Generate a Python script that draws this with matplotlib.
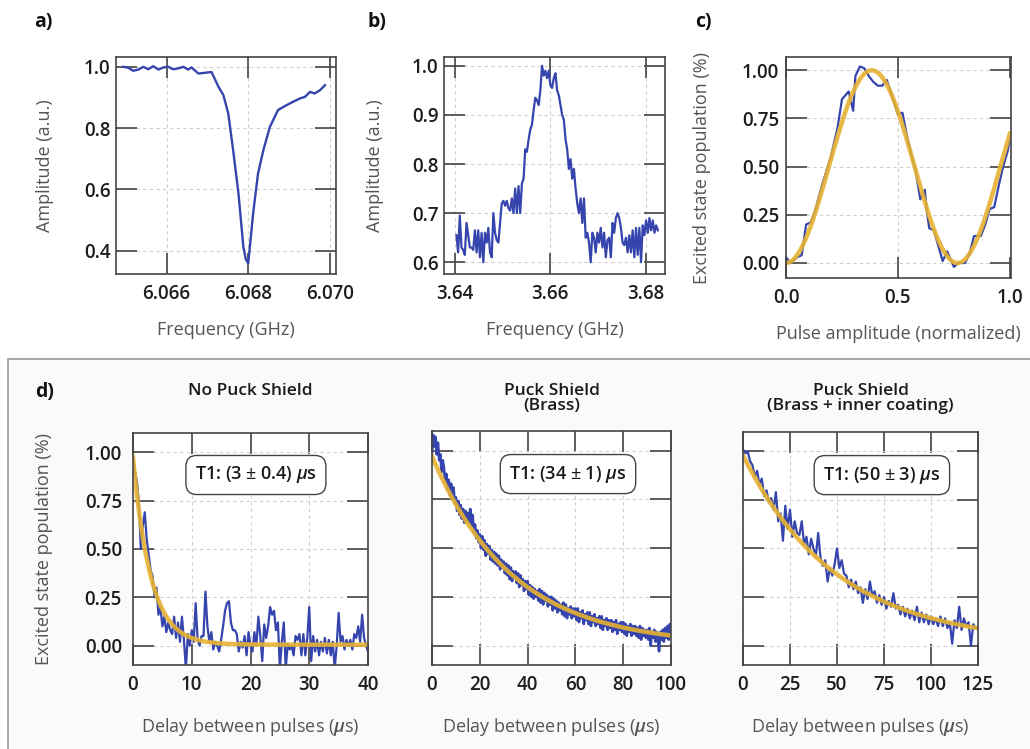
import numpy as np
import matplotlib
matplotlib.use("Agg")
import matplotlib.pyplot as plt
from matplotlib.patches import Rectangle

plt.rcParams['font.family'] = ['Open Sans', 'DejaVu Sans']
plt.rcParams['mathtext.fontset'] = 'custom'
plt.rcParams['mathtext.it'] = 'Open Sans:italic:semibold'
plt.rcParams['mathtext.rm'] = 'Open Sans'

# ---------------- data ----------------
# a) resonator spectroscopy
freq_a = [6.06494, 6.06506, 6.06518, 6.06531, 6.06543, 6.06555, 6.06567, 6.06580,
          6.06592, 6.06604, 6.06616, 6.06629, 6.06641, 6.06653, 6.06661, 6.06678,
          6.06710, 6.06727, 6.06739, 6.06751, 6.06763, 6.06776, 6.06788, 6.06794,
          6.06800, 6.06812, 6.06824, 6.06837, 6.06853, 6.06873, 6.06894, 6.06910,
          6.06927, 6.06939, 6.06951, 6.06963, 6.06976, 6.06988]
amp_a = [1.000, 0.997, 0.987, 0.991, 1.000, 0.992, 1.002, 0.991,
         0.998, 1.000, 0.992, 0.995, 1.000, 0.991, 0.998, 0.978,
         0.983, 0.935, 0.908, 0.848, 0.728, 0.587, 0.413, 0.372,
         0.359, 0.522, 0.652, 0.728, 0.804, 0.859, 0.875, 0.886,
         0.897, 0.902, 0.918, 0.913, 0.924, 0.940]

# b) qubit spectroscopy
freq_b_start, freq_b_stop = 3.6404, 3.6825
amp_b = [0.655, 0.62, 0.695, 0.63, 0.625, 0.615, 0.68, 0.655, 0.63, 0.63,
         0.625, 0.665, 0.62, 0.665, 0.61, 0.66, 0.60, 0.66, 0.64, 0.67,
         0.62, 0.61, 0.70, 0.66, 0.645, 0.64, 0.68, 0.72, 0.725, 0.715,
         0.725, 0.71, 0.705, 0.73, 0.70, 0.75, 0.70, 0.755, 0.70, 0.76,
         0.77, 0.83, 0.825, 0.85, 0.87, 0.88, 0.91, 0.935, 0.93, 0.92,
         0.95, 1.0, 0.98, 0.99, 0.975, 0.99, 0.96, 0.955, 0.975, 0.985,
         0.95, 0.94, 0.92, 0.90, 0.89, 0.85, 0.83, 0.79, 0.81, 0.77,
         0.79, 0.75, 0.72, 0.70, 0.73, 0.68, 0.73, 0.65, 0.66, 0.64,
         0.60, 0.66, 0.65, 0.62, 0.66, 0.64, 0.67, 0.63, 0.66, 0.61,
         0.645, 0.65, 0.61, 0.68, 0.66, 0.69, 0.70, 0.69, 0.67, 0.64,
         0.635, 0.65, 0.62, 0.655, 0.62, 0.665, 0.61, 0.67, 0.615, 0.67,
         0.60, 0.675, 0.655, 0.685, 0.66, 0.69, 0.665, 0.685, 0.66, 0.675,
         0.665]

# c) Rabi oscillation
pulse_c = [0.0, 0.02, 0.05, 0.07, 0.09, 0.11, 0.13, 0.16, 0.20, 0.23,
           0.25, 0.28, 0.30, 0.31, 0.33, 0.35, 0.37, 0.39, 0.41, 0.43,
           0.45, 0.47, 0.50, 0.52, 0.54, 0.56, 0.58, 0.60, 0.62, 0.63,
           0.64, 0.66, 0.68, 0.70, 0.72, 0.75, 0.77, 0.80, 0.82, 0.84,
           0.87, 0.89, 0.91, 0.93, 0.95, 0.97, 0.99, 1.0]
pop_c = [0.03, 0.0, 0.03, 0.04, 0.20, 0.21, 0.27, 0.40, 0.55, 0.70,
         0.85, 0.89, 0.79, 0.97, 1.02, 1.01, 0.97, 0.94, 0.92, 0.92,
         0.95, 0.88, 0.77, 0.78, 0.66, 0.56, 0.47, 0.33, 0.38, 0.26,
         0.18, 0.17, 0.09, 0.01, 0.06, -0.02, 0.0, 0.0, 0.05, 0.14,
         0.14, 0.20, 0.28, 0.29, 0.40, 0.50, 0.58, 0.65]
rabi_x_pi = 0.383

# d) T1 measurements
t1_titles = ["No Puck Shield", "Puck Shield\n(Brass)", "Puck Shield\n(Brass + inner coating)"]
t1_labels = [r"T1: (3 $\pm$ 0.4) $\mu$s", r"T1: (34 $\pm$ 1) $\mu$s", r"T1: (50 $\pm$ 3) $\mu$s"]
t1_tmax = [40, 100, 125]
t1_xticks = [[0, 10, 20, 30, 40], [0, 20, 40, 60, 80, 100], [0, 25, 50, 75, 100, 125]]
t1_fit_amp = [0.97, 0.97, 0.97]
t1_fit_tau = [3.0, 34.0, 50.0]
t1_fit_off = [0.005, 0.0, 0.01]

pop_d1 = [0.97, 0.90, 0.85, 0.74, 0.50, 0.62, 0.69, 0.55, 0.47, 0.39,
          0.36, 0.25, 0.30, 0.16, 0.20, 0.10, 0.15, 0.07, 0.12, 0.08,
          0.06, 0.15, 0.04, 0.12, 0.02, 0.15, 0.03, -0.12, 0.06, 0.00,
          0.08, 0.02, 0.22, 0.03, 0.00, 0.05, 0.05, 0.28, 0.10, 0.02,
          0.07, -0.02, 0.02, 0.00, -0.03, 0.03, 0.10, 0.18, 0.22, 0.23,
          0.12, 0.08, 0.08, 0.06, -0.03, 0.02, -0.01, 0.05, -0.05, 0.07,
          0.00, -0.03, 0.07, 0.00, 0.15, 0.05, -0.08, 0.11, 0.04, 0.10,
          0.20, 0.16, 0.18, 0.08, 0.12, -0.12, 0.02, 0.12, -0.12, 0.01,
          -0.02, 0.00, -0.05, 0.05, 0.03, 0.06, -0.05, 0.06, -0.05, 0.04,
          0.20, -0.08, 0.05, -0.03, 0.03, -0.05, 0.02, -0.03, 0.04, -0.04,
          0.03, -0.05, 0.02, -0.12, 0.00, 0.17, 0.02, 0.05, -0.02, 0.03,
          0.00, 0.03, -0.02, 0.06, 0.04, 0.10, 0.02, 0.16, 0.04, 0.00,
          -0.03]
pop_d2 = [0.99, 1.08, 1.02, 1.07, 0.98, 1.04, 0.95, 0.98, 0.89, 0.95,
          0.91, 0.84, 0.88, 0.80, 0.85, 0.77, 0.83, 0.75, 0.81, 0.73,
          0.76, 0.69, 0.74, 0.67, 0.72, 0.65, 0.70, 0.63, 0.69, 0.64,
          0.68, 0.63, 0.70, 0.61, 0.67, 0.58, 0.62, 0.55, 0.59, 0.53,
          0.57, 0.50, 0.56, 0.49, 0.54, 0.46, 0.52, 0.47, 0.51, 0.44,
          0.49, 0.43, 0.48, 0.42, 0.47, 0.41, 0.46, 0.39, 0.44, 0.40,
          0.43, 0.37, 0.42, 0.36, 0.41, 0.34, 0.40, 0.33, 0.38, 0.35,
          0.38, 0.32, 0.37, 0.30, 0.36, 0.31, 0.34, 0.28, 0.33, 0.29,
          0.33, 0.26, 0.31, 0.25, 0.30, 0.24, 0.29, 0.25, 0.28, 0.23,
          0.29, 0.22, 0.28, 0.21, 0.27, 0.23, 0.26, 0.20, 0.25, 0.21,
          0.25, 0.18, 0.24, 0.19, 0.23, 0.17, 0.22, 0.18, 0.21, 0.16,
          0.22, 0.15, 0.21, 0.14, 0.19, 0.16, 0.20, 0.14, 0.19, 0.15,
          0.19, 0.13, 0.19, 0.12, 0.17, 0.14, 0.18, 0.11, 0.16, 0.13,
          0.17, 0.11, 0.17, 0.10, 0.15, 0.12, 0.16, 0.10, 0.14, 0.11,
          0.15, 0.09, 0.15, 0.08, 0.13, 0.10, 0.14, 0.08, 0.13, 0.09,
          0.13, 0.07, 0.12, 0.08, 0.13, 0.06, 0.11, 0.08, 0.12, 0.07,
          0.12, 0.06, 0.11, 0.05, 0.10, 0.07, 0.11, 0.05, 0.10, 0.06,
          0.10, 0.05, 0.09, 0.04, 0.10, 0.03, 0.09, 0.05, 0.08, 0.04,
          0.08, 0.03, 0.09, 0.00, 0.07, 0.04, 0.08, 0.02, 0.07, 0.03,
          -0.03, 0.07, 0.03, 0.08, 0.02, 0.09, 0.04, 0.10, 0.03, 0.11,
          0.06]
pop_d3 = [1.01, 0.99, 1.00, 0.95, 0.93, 0.87, 0.90, 0.83, 0.86, 0.77,
          0.80, 0.74, 0.76, 0.70, 0.79, 0.64, 0.68, 0.54, 0.72, 0.60,
          0.70, 0.56, 0.64, 0.58, 0.57, 0.64, 0.52, 0.56, 0.47, 0.55,
          0.50, 0.46, 0.58, 0.45, 0.41, 0.44, 0.33, 0.40, 0.36, 0.42,
          0.50, 0.40, 0.44, 0.37, 0.36, 0.30, 0.34, 0.29, 0.33, 0.27,
          0.30, 0.22, 0.29, 0.24, 0.33, 0.26, 0.28, 0.22, 0.26, 0.21,
          0.25, 0.19, 0.23, 0.20, 0.27, 0.19, 0.21, 0.16, 0.20, 0.15,
          0.19, 0.14, 0.18, 0.13, 0.20, 0.12, 0.17, 0.12, 0.16, 0.11,
          0.15, 0.11, 0.14, 0.10, 0.15, 0.10, 0.14, 0.09, 0.12, 0.01,
          0.13, 0.09, 0.20, 0.08, 0.14, 0.10, 0.12, 0.00, 0.11, 0.09,
          0.09]
pop_d = [pop_d1, pop_d2, pop_d3]

# ---------------- style ----------------
BLUE = "#3545ad"
GOLD = "#e6b232"
TICK_C = "#444444"
LABEL_C = "#555555"
TICKLAB_C = "#1e1e1e"
TICK_FS = 13.5
LABEL_FS = 13

W, H = 1030, 749
fig = plt.figure(figsize=(W / 100, H / 100), dpi=100)
fig.patch.set_facecolor("white")


def px_axes(l, r, t, b):
    return fig.add_axes([l / W, 1 - b / H, (r - l) / W, (b - t) / H])


def style(ax, ypad=3):
    ax.set_facecolor("white")
    for s in ax.spines.values():
        s.set_color(TICK_C)
        s.set_linewidth(1.2)
    ax.tick_params(direction="in", length=15, width=1.2, color=TICK_C,
                   top=True, right=True, labelsize=TICK_FS, labelcolor=TICKLAB_C)
    ax.tick_params(axis="x", pad=7)
    ax.tick_params(axis="y", pad=ypad)
    for lab in ax.get_xticklabels() + ax.get_yticklabels():
        lab.set_fontweight("semibold")
    ax.grid(True, color="#cfcfcf", linestyle=(0, (3, 3)), linewidth=0.8)
    ax.set_axisbelow(True)


# panel d background box
fig.add_artist(Rectangle((8 / W, -0.05), 1.2, (749 - 359) / H + 0.05,
                         transform=fig.transFigure, facecolor="#fafafa",
                         edgecolor="#9a9a9a", linewidth=1.2, zorder=0))

# ---- a ----
ax_a = px_axes(116, 336, 57, 274)
ax_a.plot(freq_a, amp_a, color=BLUE, lw=1.7)
ax_a.set_xlim(6.06476, 6.07015)
ax_a.set_ylim(0.324, 1.032)
ax_a.set_xticks([6.066, 6.068, 6.070])
ax_a.set_xticklabels(["6.066", "6.068", "6.070"])
ax_a.set_yticks([0.4, 0.6, 0.8, 1.0])
ax_a.set_yticklabels(["0.4", "0.6", "0.8", "1.0"])
style(ax_a, ypad=4)

# ---- b ----
ax_b = px_axes(444, 665, 57, 274)
freq_b = np.linspace(freq_b_start, freq_b_stop, len(amp_b))
ax_b.plot(freq_b, amp_b, color=BLUE, lw=1.6)
ax_b.set_xlim(3.6378, 3.684)
ax_b.set_ylim(0.576, 1.018)
ax_b.set_xticks([3.64, 3.66, 3.68])
ax_b.set_xticklabels(["3.64", "3.66", "3.68"])
ax_b.set_yticks([0.6, 0.7, 0.8, 0.9, 1.0])
ax_b.set_yticklabels(["0.6", "0.7", "0.8", "0.9", "1.0"])
style(ax_b, ypad=4)

# ---- c ----
ax_c = px_axes(786, 1011, 57, 278)
ax_c.plot(pulse_c, pop_c, color=BLUE, lw=1.6)
xf = np.linspace(0, 1.0, 300)
ax_c.plot(xf, (1 - np.cos(np.pi * xf / rabi_x_pi)) / 2, color=GOLD, lw=3.2, alpha=0.9)
ax_c.set_xlim(0, 1.005)
ax_c.set_ylim(-0.078, 1.069)
ax_c.set_xticks([0, 0.5, 1.0])
ax_c.set_xticklabels(["0.0", "0.5", "1.0"])
ax_c.set_yticks([0, 0.25, 0.5, 0.75, 1.0])
ax_c.set_yticklabels(["0.00", "0.25", "0.50", "0.75", "1.00"])
style(ax_c, ypad=5)

for ax, lab in [(ax_a, "Amplitude (a.u.)"), (ax_b, "Amplitude (a.u.)")]:
    ax.set_xlabel("Frequency (GHz)", fontsize=LABEL_FS, color=LABEL_C)
    ax.set_ylabel(lab, fontsize=LABEL_FS, color=LABEL_C)
ax_c.set_xlabel("Pulse amplitude (normalized)", fontsize=LABEL_FS, color=LABEL_C)
ax_c.set_ylabel("Excited state population (%)", fontsize=LABEL_FS, color=LABEL_C)

# label positions (axes coordinates)
for ax, top, bot, left, right, ly_x, lx_y in [(ax_a, 57, 274, 116, 336, 45, 330),
                                              (ax_b, 57, 274, 444, 665, 375, 330),
                                              (ax_c, 57, 278, 786, 1011, 702, 334)]:
    ax.xaxis.set_label_coords(0.5, (bot - lx_y) / (bot - top))
    ax.xaxis.label.set_va("center")
    ax.yaxis.set_label_coords((ly_x - left) / (right - left), 0.5)
    ax.yaxis.label.set_va("center")

# ---- d ----
d_boxes = [(133, 368, 433, 665), (432, 671, 431, 665), (743, 978, 432, 665)]
box_pos = [(0.523, 0.819), (0.569, 0.816), (0.591, 0.815)]
for i, (l, r, t, b) in enumerate(d_boxes):
    ax = px_axes(l, r, t, b)
    vals = pop_d[i]
    tt = np.linspace(0, t1_tmax[i], len(vals))
    ax.plot(tt, vals, color=BLUE, lw=1.9 if i == 1 else 1.6)
    tf = np.linspace(0, t1_tmax[i], 400)
    ax.plot(tf, t1_fit_amp[i] * np.exp(-tf / t1_fit_tau[i]) + t1_fit_off[i],
            color=GOLD, lw=3.2, alpha=0.9)
    ax.set_xlim(0, t1_tmax[i])
    ax.set_ylim(-0.10, 1.10)
    ax.set_xticks(t1_xticks[i])
    ax.set_xticklabels([str(v) for v in t1_xticks[i]])
    ax.set_yticks([0, 0.25, 0.5, 0.75, 1.0])
    if i == 0:
        ax.set_yticklabels(["0.00", "0.25", "0.50", "0.75", "1.00"])
    else:
        ax.set_yticklabels([])
    style(ax, ypad=8)
    ax.set_xlabel(r"Delay between pulses ($\mu$s)", fontsize=LABEL_FS, color=LABEL_C)
    ax.xaxis.set_label_coords(0.5, (b - 727) / (b - t))
    ax.xaxis.label.set_va("center")
    if i == 0:
        ax.set_ylabel("Excited state population (%)", fontsize=LABEL_FS, color=LABEL_C)
        ax.yaxis.set_label_coords((44 - l) / (r - l), 0.5)
        ax.yaxis.label.set_va("center")
    ax.text(0.5, (b - 383) / (b - t), t1_titles[i], transform=ax.transAxes,
            ha="center", va="top", fontsize=12.5, fontweight="semibold",
            color="#1a1a1a", linespacing=0.9)
    ax.text(box_pos[i][0], box_pos[i][1], t1_labels[i], transform=ax.transAxes,
            ha="center", va="center", fontsize=13, fontweight="semibold",
            color="#1a1a1a", zorder=5,
            bbox=dict(boxstyle="round,pad=0.5,rounding_size=0.6",
                      facecolor="white", edgecolor="#444444", linewidth=1.0))

# panel letters
for x, y, s in [(43, 22, "a)"), (377, 22, "b)"), (703, 22, "c)"), (45, 392, "d)")]:
    fig.text(x / W, 1 - y / H, s, fontsize=14, fontweight="bold",
             ha="center", va="center", color="#111111")

fig.savefig("out.png", dpi=100)
